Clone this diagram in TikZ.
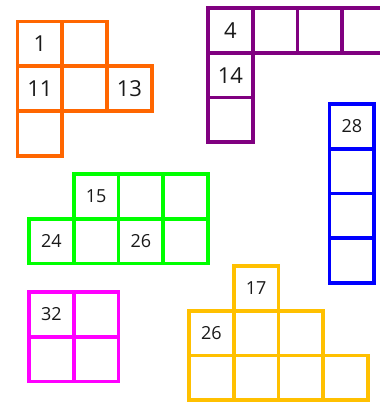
\documentclass[tikz,border=0pt]{standalone}
\usepackage{fontspec}
\setmainfont{Open Sans}
\definecolor{cOrange}{RGB}{255,102,0}
\definecolor{cPurple}{RGB}{128,0,128}
\definecolor{cBlue}{RGB}{0,0,255}
\definecolor{cGreen}{RGB}{0,255,0}
\definecolor{cMagenta}{RGB}{255,0,255}
\definecolor{cYellow}{RGB}{255,192,0}
\definecolor{cText}{RGB}{25,25,25}
\tikzset{
  cell/.style={draw=#1, line width=3.8pt, minimum size=44.75pt, inner sep=0pt, outer sep=0pt, text=cText},
  bignum/.style={font=\fontsize{22}{22}\selectfont},
  smallnum/.style={font=\fontsize{18}{18}\selectfont},
  grid/.style={x=44.75pt, y=-44.75pt}
}
\begin{document}
\begin{tikzpicture}[x=1pt,y=-1pt]
\useasboundingbox (0,0) rectangle (380,402);
\clip (0,0) rectangle (380,402);
% orange
\begin{scope}[shift={(17.5,21.5)}, grid, every node/.style={cell=cOrange, bignum}]
  \node (o1)  at (0.5,0.5) {1};
  \node (o2)  at (1.5,0.5) {};
  \node (o11) at (0.5,1.5) {11};
  \node (o12) at (1.5,1.5) {};
  \node (o13) at (2.5,1.5) {13};
  \node (o21) at (0.5,2.5) {};
\end{scope}
% purple
\begin{scope}[shift={(208,8)}, grid, every node/.style={cell=cPurple, bignum}]
  \node (p4)  at (0.5,0.5) {4};
  \node (p5)  at (1.5,0.5) {};
  \node (p6)  at (2.5,0.5) {};
  \node (p7)  at (3.5,0.5) {};
  \node (p14) at (0.5,1.5) {14};
  \node (p24) at (0.5,2.5) {};
\end{scope}
% blue
\begin{scope}[shift={(329.5,104)}, grid, every node/.style={cell=cBlue, smallnum}]
  \node (b28) at (0.5,0.5) {28};
  \node (b2)  at (0.5,1.5) {};
  \node (b3)  at (0.5,2.5) {};
  \node (b4)  at (0.5,3.5) {};
\end{scope}
% green
\begin{scope}[shift={(29,174)}, grid, every node/.style={cell=cGreen, smallnum}]
  \node (g15) at (1.5,0.5) {15};
  \node (g16) at (2.5,0.5) {};
  \node (g17) at (3.5,0.5) {};
  \node (g24) at (0.5,1.5) {24};
  \node (g25) at (1.5,1.5) {};
  \node (g26) at (2.5,1.5) {26};
  \node (g27) at (3.5,1.5) {};
\end{scope}
% magenta
\begin{scope}[shift={(29,292)}, grid, every node/.style={cell=cMagenta, smallnum}]
  \node (m32) at (0.5,0.5) {32};
  \node (m33) at (1.5,0.5) {};
  \node (m42) at (0.5,1.5) {};
  \node (m43) at (1.5,1.5) {};
\end{scope}
% yellow
\begin{scope}[shift={(189,266)}, grid, every node/.style={cell=cYellow, smallnum}]
  \node (y17) at (1.5,0.5) {17};
  \node (y26) at (0.5,1.5) {26};
  \node (y27) at (1.5,1.5) {};
  \node (y28) at (2.5,1.5) {};
  \node (y36) at (0.5,2.5) {};
  \node (y37) at (1.5,2.5) {};
  \node (y38) at (2.5,2.5) {};
  \node (y39) at (3.5,2.5) {};
\end{scope}
\end{tikzpicture}
\end{document}
